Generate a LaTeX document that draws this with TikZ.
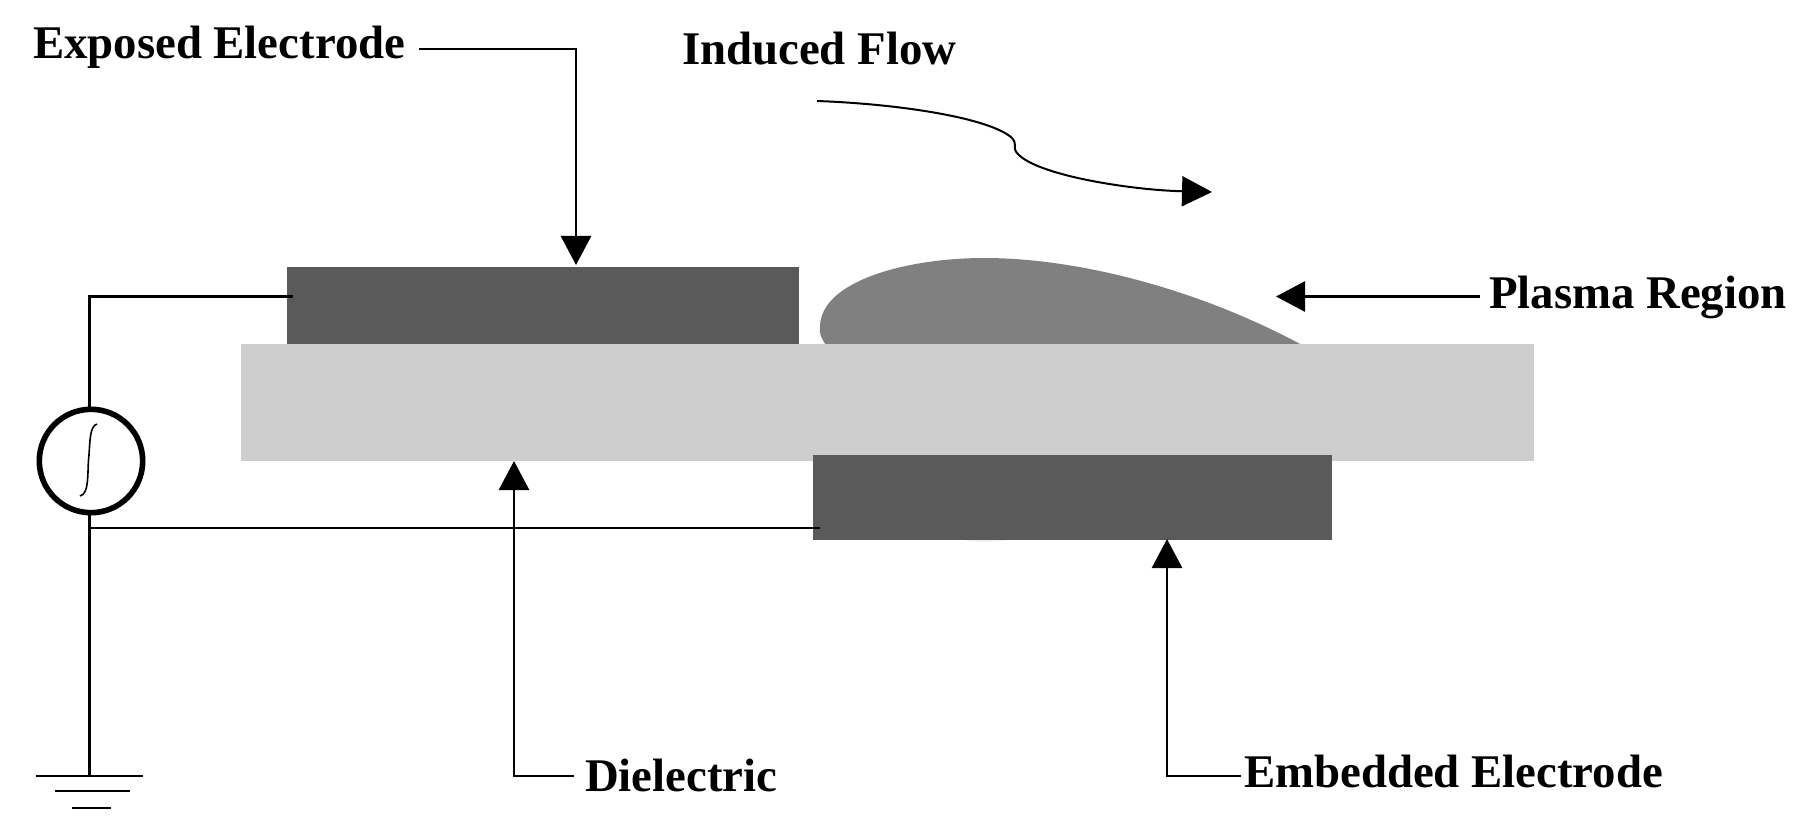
\documentclass[tikz,border=0pt]{standalone}
\usepackage{fontspec}
\setmainfont{Liberation Serif}
\usetikzlibrary{arrows.meta}
\definecolor{elecgray}{HTML}{5A5A5A}
\definecolor{plasmagray}{HTML}{808080}
\definecolor{dielgray}{HTML}{CECECE}
\tikzset{
  block/.style={draw=none,inner sep=0pt,outer sep=0pt},
  lbl/.style={inner sep=0pt,outer sep=0pt,font=\bfseries\fontsize{23.4}{28}\selectfont,text=black},
  wire/.style={draw=black,line width=1.45pt},
  arr/.style={wire,-{Triangle[length=14.5pt,width=15pt]}},
  gnd/.style={draw=black,line width=1.45pt}
}
\begin{document}
\begin{tikzpicture}[x=0.5pt,y=-0.5pt]
\useasboundingbox (0,0) rectangle (1802,828);
% plasma
\fill[plasmagray] (826,345) .. controls (821,338) and (819,333) .. (820,327)
  .. controls (820,281) and (907,258) .. (984,258)
  .. controls (1080,258) and (1200,290) .. (1302,345) -- cycle;
% faint sliver below the embedded electrode
\fill[black!7] (956,538) .. controls (970,543) and (1000,543) .. (1014,538) -- cycle;
% dielectric and electrodes
\node[block,fill=dielgray,minimum width=646.5pt,minimum height=58.5pt] (diel) at (887.5,402.5) {};
\node[block,fill=elecgray,minimum width=256pt,minimum height=38.5pt] (exposed) at (543,305.5) {};
\node[block,fill=elecgray,minimum width=259.5pt,minimum height=42.5pt] (embedded) at (1072.5,497) {};
% source
\node[circle,draw=black,line width=2.8pt,fill=white,minimum size=51.7pt,inner sep=0pt,outer sep=0pt] (src) at (91,461) {};
\draw[black,line width=0.8pt] (80,496) .. controls (90,494) and (87,470) .. (89,455) .. controls (90,440) and (90,426) .. (97,424);
% labels
\node[lbl,anchor=west] (lexp) at (33,47.5) {Exposed Electrode};
\node[lbl,anchor=west] (lflow) at (682,49) {Induced Flow};
\node[lbl,anchor=west] (lplasma) at (1489,297.5) {Plasma Region};
\node[lbl,anchor=west] (ldiel) at (585,775) {Dielectric};
\node[lbl,anchor=west] (lemb) at (1244,771.5) {Embedded Electrode};
% named connector ends
\coordinate (expTip) at (576,265);
\coordinate (expFrom) at (419,49);
\coordinate (plasmaTip) at (1276,296.5);
\coordinate (plasmaFrom) at (1480,296.5);
\coordinate (dielTip) at (514,461);
\coordinate (dielFrom) at (574,776);
\coordinate (embTip) at (1167,539);
\coordinate (embFrom) at (1241,776);
\coordinate (wireTop) at (293,296.5);
\coordinate (wireBot) at (820,528);
\coordinate (junction) at (89.5,528);
\coordinate (gndA) at (89.5,776);
\coordinate (gndAl) at (36,776);
\coordinate (gndAr) at (143,776);
\coordinate (gndBl) at (55,791);
\coordinate (gndBr) at (130,791);
\coordinate (gndCl) at (72,808);
\coordinate (gndCr) at (111,808);
\coordinate (flowS) at (817,101);
\coordinate (flowE) at (1212,192);
% connectors
\draw[arr] (expFrom) -| (expTip);
\draw[arr] (plasmaFrom) -- (plasmaTip);
\draw[arr] (dielFrom) -| (dielTip);
\draw[arr] (embFrom) -| (embTip);
\draw[wire] (wireTop) -| (src.north -| junction);
\draw[wire] (src.south -| junction) -- (junction) -- (wireBot);
\draw[wire] (junction) -- (gndA);
\draw[gnd] (gndAl) -- (gndAr);
\draw[gnd] (gndBl) -- (gndBr);
\draw[gnd] (gndCl) -- (gndCr);
\draw[draw=black,line width=1pt,-{Triangle[length=15pt,width=15pt]}] (flowS) .. controls (900,104) and (990,118) .. (1012,138)
  .. controls (1018,145) and (1012,147) .. (1017,153)
  .. controls (1035,175) and (1130,190) .. (flowE);
\end{tikzpicture}
\end{document}
